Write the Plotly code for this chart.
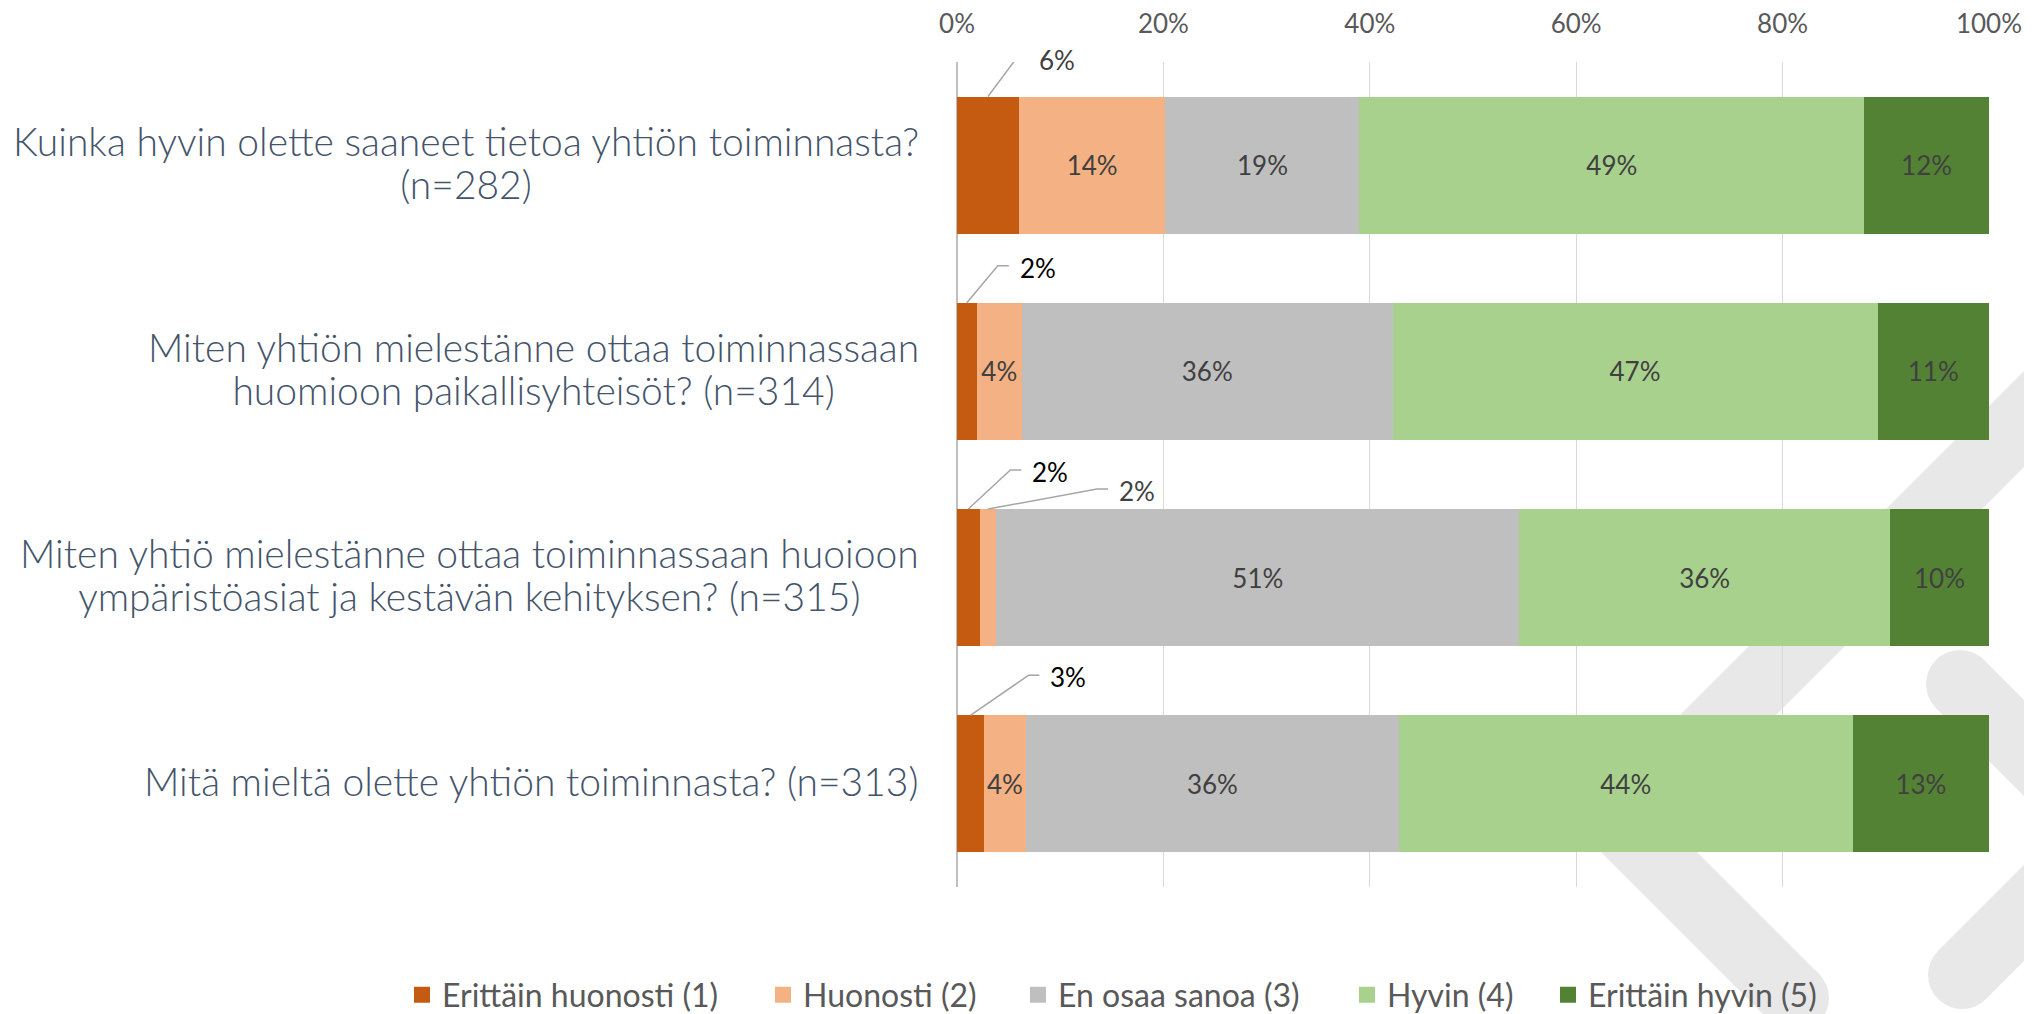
import plotly.graph_objects as go

# ---------------- data ----------------
questions = [
    "Kuinka hyvin olette saaneet tietoa yhtiön toiminnasta?<br>(n=282)",
    "Miten yhtiön mielestänne ottaa toiminnassaan<br>huomioon paikallisyhteisöt? (n=314)",
    "Miten yhtiö mielestänne ottaa toiminnassaan huoioon<br>ympäristöasiat ja kestävän kehityksen? (n=315)",
    "Mitä mieltä olette yhtiön toiminnasta? (n=313)",
]
series_names = ["Erittäin huonosti (1)", "Huonosti (2)", "En osaa sanoa (3)", "Hyvin (4)", "Erittäin hyvin (5)"]
erittain_huonosti = [6.0, 1.9, 2.2, 2.6]
huonosti = [14.2, 4.4, 1.6, 4.1]
en_osaa_sanoa = [18.8, 35.9, 50.7, 36.1]
hyvin = [48.9, 47.0, 35.9, 44.0]
erittain_hyvin = [12.1, 10.8, 9.6, 13.2]
series_values = [erittain_huonosti, huonosti, en_osaa_sanoa, hyvin, erittain_hyvin]
tick_values = [0, 20, 40, 60, 80, 100]
tick_labels = ["0%", "20%", "40%", "60%", "80%", "100%"]

# ---------------- style ----------------
colors = ["#C55A11", "#F4B183", "#BFBFBF", "#A9D18E", "#548235"]
OFF = 8                      # page body margin
W, H = 2032 - OFF, 1014 - OFF
ML = 957 - OFF
MT = 62 - OFF
PW = 1032
PH = 825
MR = W - ML - PW
MB = H - MT - PH
BAR_W = 0.665
FONT = "Lato"
LABEL_SIZE = 39          # glyph size of category labels
LABEL_BASE = 33          # base size (controls line spacing)
legend_left_px = [402, 763, 1018, 1347, 1548]   # screen x of each legend entry

# callouts for small segments: (row, series, elbow_dx_px, elbow_dy_px, color)
callouts = [
    (0, 0, 29, 39, "#404040"),
    (1, 0, 31, 37, "#000000"),
    (2, 0, 42, 39, "#000000"),
    (2, 1, 109, 20, "#404040"),
    (3, 0, 58, 40, "#000000"),
]
callout_set = {(r, s) for r, s, *_ in callouts}
HLEN, TGAP = 11, 9


def px(x):
    return (x - OFF - ML) / PW


def py(y):
    return 1 - (y - OFF - MT) / PH


rows = list(range(len(questions)))
fig = go.Figure()

# bars
for s, (name, vals) in enumerate(zip(series_names, series_values)):
    texts = ["" if (r, s) in callout_set else f"{v:.0f}%" for r, v in enumerate(vals)]
    fig.add_trace(go.Bar(
        x=vals, y=rows, orientation="h", name=name, width=BAR_W,
        marker=dict(color=colors[s], line=dict(width=0)),
        text=texts, textposition="inside", insidetextanchor="middle",
        constraintext="none", textangle=0,
        textfont=dict(family=FONT, size=26, color="#404040"),
        showlegend=False, hoverinfo="x+y",
    ))

# legend entries (square markers), one legend per entry for exact spacing
legend_layouts = {}
for s, name in enumerate(series_names):
    lname = "legend" if s == 0 else f"legend{s + 1}"
    fig.add_trace(go.Scatter(
        x=[None], y=[None], mode="markers", name=name,
        marker=dict(symbol="square", size=16, color=colors[s]),
        showlegend=True, legend=lname,
    ))
    legend_layouts[lname] = dict(
        orientation="h", xref="paper", yref="paper", x=px(legend_left_px[s]), y=py(995),
        xanchor="left", yanchor="middle",
        font=dict(family=FONT, size=32, color="#595959"),
        bgcolor="rgba(0,0,0,0)", itemclick=False, itemdoubleclick=False,
    )

annotations = []
# leader lines + callout labels
xu = 100.0 / PW
yu = 4.0 / PH
for r, s, dx, dy, col in callouts:
    start = sum(series_values[k][r] for k in range(s))
    mid = start + series_values[s][r] / 2.0
    ytop = r - BAR_W / 2.0
    xs = [mid, mid + dx * xu, mid + (dx + HLEN) * xu]
    ys = [ytop, ytop - dy * yu, ytop - dy * yu]
    fig.add_trace(go.Scatter(
        x=xs, y=ys, mode="lines", line=dict(color="#A6A6A6", width=1.5),
        showlegend=False, hoverinfo="skip", cliponaxis=False,
    ))
    annotations.append(dict(
        x=mid, y=ytop, xref="x", yref="y", showarrow=False,
        text=f"{series_values[s][r]:.0f}%", xanchor="left", yanchor="middle",
        xshift=dx + HLEN + TGAP, yshift=dy - 2,
        font=dict(family=FONT, size=26, color=col),
    ))

# category labels
for r, q in enumerate(questions):
    lines = q.split("<br>")
    txt = "<br>".join(f"<span style='font-size:{LABEL_SIZE}px'>{ln}</span>" for ln in lines)
    annotations.append(dict(
        x=0, y=r, xref="paper", yref="y", showarrow=False, text=txt,
        xanchor="right", yanchor="middle", align="center", xshift=-36, yshift=3,
        font=dict(family=FONT, size=LABEL_BASE, color="#44546A", weight=300),
    ))

# background watermark strokes (decorative), defined in screen pixels
strokes = [((2150, 293), (1620, 823)), ((1620, 823), (1795, 998)),
           ((1960, 684), (2150, 874)), ((2150, 787), (1962, 975))]
HW = 34
shapes = []
wm = "#E8E8E8"
for (x1, y1), (x2, y2) in strokes:
    ddx, ddy = x2 - x1, y2 - y1
    L = (ddx ** 2 + ddy ** 2) ** 0.5
    nx, ny = -ddy / L * HW, ddx / L * HW
    pts = [(x1 + nx, y1 + ny), (x2 + nx, y2 + ny), (x2 - nx, y2 - ny), (x1 - nx, y1 - ny)]
    path = "M " + " L ".join(f"{px(a):.5f},{py(b):.5f}" for a, b in pts) + " Z"
    shapes.append(dict(type="path", xref="paper", yref="paper", path=path,
                       fillcolor=wm, line=dict(width=0), layer="below"))
    for cx, cy in [(x1, y1), (x2, y2)]:
        shapes.append(dict(type="circle", xref="paper", yref="paper",
                           x0=px(cx - HW), x1=px(cx + HW), y0=py(cy + HW), y1=py(cy - HW),
                           fillcolor=wm, line=dict(width=0), layer="below"))

fig.update_layout(
    width=W, height=H, barmode="stack",
    margin=dict(l=ML, r=MR, t=MT, b=MB, autoexpand=False),
    paper_bgcolor="white", plot_bgcolor="rgba(0,0,0,0)",
    font=dict(family=FONT, color="#595959"),
    xaxis=dict(range=[0, 100], side="top", tickmode="array", tickvals=tick_values, ticktext=tick_labels,
               showgrid=True, gridcolor="#D9D9D9", gridwidth=1.3,
               zeroline=True, zerolinecolor="#BFBFBF", zerolinewidth=1.5,
               showline=False, ticks="", ticklabelstandoff=23,
               tickfont=dict(family=FONT, size=26, color="#595959"), fixedrange=True),
    yaxis=dict(range=[3.5, -0.5], showticklabels=False, showgrid=False, zeroline=False,
               showline=False, fixedrange=True),
    annotations=annotations, shapes=shapes, showlegend=True,
    **legend_layouts,
)

fig.write_html("out.html")
